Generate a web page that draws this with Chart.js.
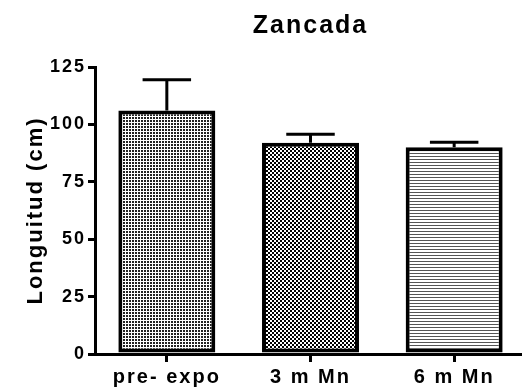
<!DOCTYPE html>
<html>
<head>
<meta charset="utf-8">
<script src="https://cdn.jsdelivr.net/npm/chart.js@4.4.1/dist/chart.umd.min.js"></script>
<style>
html, body { margin: 0; padding: 0; background: #fff; overflow: hidden; }
#wrap { width: 528px; height: 389px; }
</style>
</head>
<body>
<div id="wrap"><canvas id="zancadaChart" width="528" height="389"></canvas></div>
<script>
const groups = ["pre- expo", "3 m Mn", "6 m Mn"];
const means = [106, 92, 90];
const errors = [13.5, 3.7, 2.2];
const yTicks = [0, 25, 50, 75, 100, 125];

const FONT = "'Liberation Sans', Arial, sans-serif";

// small tiles for the hatched fills
function makePattern(size, draw) {
    const c = document.createElement("canvas");
    c.width = size[0];
    c.height = size[1];
    const g = c.getContext("2d");
    g.fillStyle = "#fff";
    g.fillRect(0, 0, c.width, c.height);
    draw(g);
    return document.getElementById("zancadaChart").getContext("2d").createPattern(c, "repeat");
}

const fills = [
    makePattern([3, 3], g => { g.fillStyle = "#222"; g.fillRect(0, 0, 2, 2); }),
    makePattern([4, 4], g => { g.fillStyle = "#000"; g.fillRect(0, 0, 2, 2); g.fillRect(2, 2, 2, 2); }),
    makePattern([3, 3], g => { g.fillStyle = "#555"; g.fillRect(0, 0, 3, 1); })
];

const spacing = {
    id: "spacing",
    beforeUpdate(chart) { chart.ctx.letterSpacing = "2px"; },
    beforeDraw(chart) { chart.ctx.letterSpacing = "2px"; }
};

const errorBars = {
    id: "errorBars",
    afterDatasetsDraw(chart) {
        const ctx = chart.ctx;
        const y = chart.scales.y;
        const meta = chart.getDatasetMeta(0);
        ctx.save();
        ctx.strokeStyle = "#000";
        ctx.lineWidth = 3;
        meta.data.forEach((bar, i) => {
            const top = y.getPixelForValue(means[i] + errors[i]);
            const half = bar.width / 4;
            ctx.beginPath();
            ctx.moveTo(bar.x, bar.y);
            ctx.lineTo(bar.x, top);
            ctx.moveTo(bar.x - half, top);
            ctx.lineTo(bar.x + half, top);
            ctx.stroke();
        });
        ctx.restore();
    }
};

new Chart(document.getElementById("zancadaChart"), {
    type: "bar",
    data: {
        labels: groups,
        datasets: [{
            data: means,
            backgroundColor: fills,
            borderColor: "#000",
            borderWidth: 4,
            borderSkipped: false,
            categoryPercentage: 1,
            barPercentage: 0.675
        }]
    },
    options: {
        responsive: false,
        animation: false,
        layout: { padding: { left: 0, right: 2, top: 0, bottom: 0 } },
        plugins: {
            legend: { display: false },
            tooltip: { enabled: false },
            title: {
                display: true,
                text: "Zancada",
                fullSize: false,
                color: "#000",
                font: { family: FONT, size: 25, weight: "bold" },
                padding: { top: 11, bottom: 26 }
            }
        },
        scales: {
            x: {
                grid: { display: true, drawOnChartArea: false, offset: false, color: "#000", lineWidth: 3, tickLength: 8 },
                border: { display: true, color: "#000", width: 3 },
                ticks: { color: "#000", padding: 3, font: { family: FONT, size: 20, weight: "bold" } },
                afterFit(scale) { scale.height = 35; }
            },
            y: {
                min: 0,
                max: 125,
                grid: { display: true, drawOnChartArea: false, color: "#000", lineWidth: 3, tickLength: 7 },
                border: { display: true, color: "#000", width: 3 },
                ticks: { color: "#000", padding: 2, font: { family: FONT, size: 18, weight: "bold" } },
                afterBuildTicks(scale) { scale.ticks = yTicks.map(v => ({ value: v })); },
                title: {
                    display: true,
                    text: "Longuitud (cm)",
                    color: "#000",
                    font: { family: FONT, size: 22, weight: "bold" },
                    padding: { top: 23, bottom: 0 }
                },
                afterFit(scale) { scale.width = 95; }
            }
        }
    },
    plugins: [spacing, errorBars]
});
</script>
</body>
</html>
